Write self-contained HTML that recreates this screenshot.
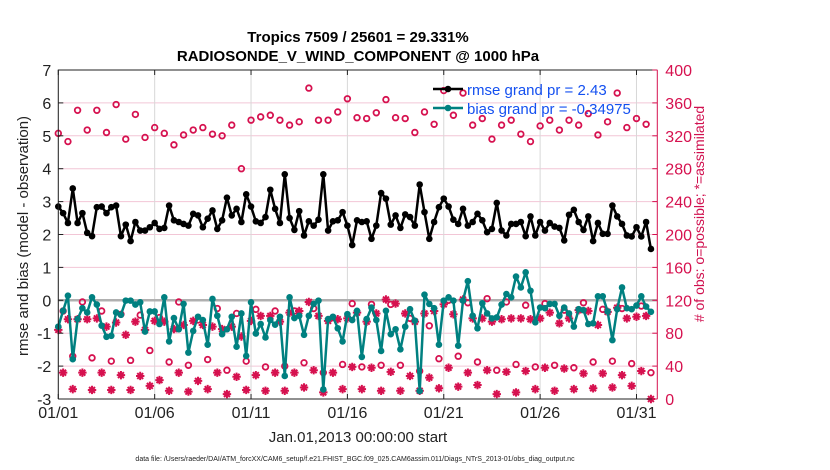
<!DOCTYPE html>
<html><head><meta charset="utf-8"><style>
body{margin:0;background:#fff;}
svg{display:block;font-family:"Liberation Sans",Arial,sans-serif;}
</style></head><body>
<svg id="chart" width="830" height="470" viewBox="0 0 830 470" xmlns="http://www.w3.org/2000/svg">
<rect width="830" height="470" fill="#fff"/>
<g id="grid"></g><g id="marks"></g><g id="axes"></g>
<text x="358" y="42" text-anchor="middle" font-size="15" font-weight="bold">Tropics 7509 / 25601 = 29.331%</text>
<text x="358" y="61" text-anchor="middle" font-size="15" font-weight="bold">RADIOSONDE_V_WIND_COMPONENT @ 1000 hPa</text>
<text x="358" y="442" text-anchor="middle" font-size="15" fill="#222">Jan.01,2013 00:00:00 start</text>
<text x="355" y="461" text-anchor="middle" font-size="7" fill="#222">data file: /Users/raeder/DAI/ATM_forcXX/CAM6_setup/f.e21.FHIST_BGC.f09_025.CAM6assim.011/Diags_NTrS_2013-01/obs_diag_output.nc</text>
<text transform="translate(28,236) rotate(-90)" text-anchor="middle" font-size="15" fill="#222">rmse and bias (model - observation)</text>
<text transform="translate(704,214) rotate(-90)" text-anchor="middle" font-size="14" fill="#d0104f"># of obs: o=possible; *=assimilated</text>
<g>
<line x1="433" y1="89" x2="463" y2="89" stroke="#000" stroke-width="2.5"/><circle cx="448" cy="89" r="3.3" fill="#000"/>
<text x="467" y="95" font-size="15" fill="#1450f0">rmse grand pr = 2.43</text>
<line x1="433" y1="108" x2="463" y2="108" stroke="#008080" stroke-width="2.5"/><circle cx="448" cy="108" r="3.3" fill="#008080"/>
<text x="467" y="114" font-size="15" fill="#1450f0">bias grand pr = -0.34975</text>
</g>
</svg>
<script>
const rmse=[2.85,2.65,2.35,3.4,2.35,2.65,2.05,1.95,2.83,2.85,2.65,2.83,2.88,1.95,2.3,1.8,2.38,2.12,2.12,2.22,2.35,2.17,2.2,2.88,2.43,2.38,2.32,2.27,2.63,2.58,
2.22,2.48,2.73,2.17,2.43,3.12,2.58,2.78,2.38,3.22,2.85,2.4,2.35,2.53,3.36,2.78,2.35,3.83,2.5,2.14,2.71,1.97,2.4,2.27,2.45,3.83,2.12,2.4,2.43,2.68,
2.27,1.68,2.43,2.38,2.4,1.87,2.27,3.26,3.09,2.3,2.58,2.2,2.61,2.53,2.27,3.52,2.68,1.87,2.38,2.83,3.09,2.85,2.45,2.32,2.78,2.27,2.38,2.63,2.43,2.07,
2.17,2.96,2.12,1.97,2.32,2.32,2.38,1.95,2.55,1.97,2.38,2.12,2.35,2.24,2.2,1.82,2.6,2.75,2.38,2.14,2.55,1.8,2.35,2.02,2.02,2.88,2.55,2.32,1.97,1.94,2.22,1.94,2.38,1.56];
const bias=[-0.8,-0.32,0.14,-1.79,-0.57,-0.24,-0.37,0.09,-0.13,-0.77,-1.11,-1.08,-0.37,-0.44,-0.01,-0.01,-0.13,-0.06,-0.95,-0.34,-0.34,-0.72,0.09,-1.25,-0.54,-0.88,-0.11,-1.59,-0.93,-0.5,
-0.6,-1.35,0.04,-0.47,-1.03,-0.88,-0.5,-1.41,-0.4,-1.69,-0.06,-1.01,-0.72,-1.13,-0.6,-0.74,-0.5,-2.3,0.09,-0.54,-0.47,-1.05,-0.47,-0.11,-0.01,-2.71,-0.57,-0.5,-0.85,-1.25,
-0.42,-0.6,-0.32,-1.72,-0.57,-0.22,-0.6,-1.54,-0.32,-1.03,-0.88,-1.49,-0.8,-0.27,-0.62,-2.76,0.17,-0.11,-0.24,-1.35,-0.01,0.09,-0.01,-1.38,-0.01,0.58,-0.47,-0.85,-0.09,-0.4,
-0.55,-0.52,-0.13,0.19,0.09,0.72,0.39,0.85,0.29,-0.67,-0.22,-0.24,-0.11,-0.11,-0.47,-0.22,-0.4,-0.8,-0.27,-0.3,-0.72,-0.7,0.12,0.12,-0.34,-1.21,-0.27,0.39,-0.24,-0.27,-0.16,0.12,-0.19,-0.35];
const possible=[323,107,313,52,351,118,327,50,351,107,324,46,358,103,316,47,346,102,318,59,330,99,323,45,309,118,321,41,327,96,
330,48,322,110,320,35,333,104,280,46,339,109,343,39,345,107,339,40,333,107,337,44,378,110,339,32,339,99,349,42,
365,116,342,39,341,115,348,41,364,115,342,41,341,98,324,34,349,89,334,49,375,120,345,52,372,117,333,45,341,122,
316,35,333,118,339,42,322,114,313,39,332,116,339,41,327,108,339,38,333,117,347,45,321,109,337,46,372,110,330,43,341,113,334,32];
const assimilated=[84,32,97,12,97,32,97,11,98,32,88,11,93,29,78,11,94,28,84,16,95,23,94,10,85,32,90,9,95,22,
90,12,88,32,85,6,88,27,76,11,95,29,101,10,101,32,94,10,105,32,107,14,118,35,101,8,95,32,97,12,
98,39,105,12,94,38,104,10,121,33,116,10,104,28,94,10,104,26,107,13,115,38,103,15,121,32,98,17,98,35,
94,6,97,33,98,8,98,34,97,12,98,38,105,10,92,37,98,12,108,31,107,13,90,31,106,14,111,29,98,16,100,34,101,0];
const xTickLabels=["01/01","01/06","01/11","01/16","01/21","01/26","01/31"];
const leftTicks=[-3,-2,-1,0,1,2,3,4,5,6,7];
const rightTicks=[0,40,80,120,160,200,240,280,320,360,400];

const NS="http://www.w3.org/2000/svg";
const X0=58.3,X1=657.3,Y0=70,Y1=399,DMAX=31.08;
const xS=d=>X0+d*(X1-X0)/DMAX;
const xI=i=>xS(i/4);
const yL=v=>Y0+(7-v)*(Y1-Y0)/10;
const yR=v=>Y1-v*(Y1-Y0)/400;
const RED="#d6114f";
function mk(tag,attrs,parent){const e=document.createElementNS(NS,tag);for(const k in attrs)e.setAttribute(k,attrs[k]);parent.appendChild(e);return e;}
const grid=document.getElementById('grid'),marks=document.getElementById('marks'),axes=document.getElementById('axes');
rightTicks.forEach(v=>{const l=mk('line',{x1:X0,x2:X1,y1:yR(v),y2:yR(v),stroke:'#f2c6d6','stroke-width':1},grid);

});
xTickLabels.forEach((t,k)=>{const x=xS(k*5);const l=mk('line',{x1:x,x2:x,y1:Y0,y2:Y1,stroke:'#d8d8d8','stroke-width':1},grid);

});
const zl=mk('line',{x1:X0,x2:X1,y1:yL(0),y2:yL(0),stroke:'#b0b0b0','stroke-width':2.5},grid);


possible.forEach((v,i)=>{const c=mk('circle',{cx:xI(i),cy:yR(v),r:2.8,fill:'none',stroke:RED,'stroke-width':1.8},marks);

});
assimilated.forEach((v,i)=>{const x=xI(i),y=yR(v),s=4.2;const g=mk('g',{stroke:RED,'stroke-width':2},marks);


mk('path',{d:`M${x-s},${y}H${x+s}M${x},${y-s}V${y+s}M${x-s*0.7},${y-s*0.7}L${x+s*0.7},${y+s*0.7}M${x-s*0.7},${y+s*0.7}L${x+s*0.7},${y-s*0.7}`},g);});
function series(arr,color,name){const pts=arr.map((v,i)=>xI(i).toFixed(1)+','+yL(v).toFixed(1)).join(' ');
const p=mk('polyline',{points:pts,fill:'none',stroke:color,'stroke-width':2.5,'stroke-linejoin':'round'},marks);


arr.forEach((v,i)=>{const c=mk('circle',{cx:xI(i),cy:yL(v),r:3.3,fill:color},marks);

});}
series(bias,'#008080','bias');
series(rmse,'#000000','rmse');
const fr=mk('path',{d:`M${X0},${Y1}V${Y0}H${X1}M${X0},${Y1}H${X1}`,fill:'none',stroke:'#222','stroke-width':1},axes);


const ra=mk('line',{x1:X1,x2:X1,y1:Y0,y2:Y1,stroke:RED,'stroke-width':1},axes);


leftTicks.forEach(v=>{const y=yL(v);mk('line',{x1:X0,x2:X0+5,y1:y,y2:y,stroke:'#222'},axes);
const t=mk('text',{x:X0-7,y:y+6,'text-anchor':'end','font-size':16,fill:'#222'},axes);t.textContent=v;

});
rightTicks.forEach(v=>{const y=yR(v);mk('line',{x1:X1-5,x2:X1,y1:y,y2:y,stroke:RED},axes);
const t=mk('text',{x:X1+8,y:y+6,'text-anchor':'start','font-size':16,fill:RED},axes);t.textContent=v;

});
xTickLabels.forEach((s,k)=>{const x=xS(k*5);mk('line',{x1:x,x2:x,y1:Y1,y2:Y1-5,stroke:'#222'},axes);mk('line',{x1:x,x2:x,y1:Y0,y2:Y0+5,stroke:'#222'},axes);
const t=mk('text',{x:x,y:418,'text-anchor':'middle','font-size':16,fill:'#222'},axes);t.textContent=s;

});
</script>
</body></html>
